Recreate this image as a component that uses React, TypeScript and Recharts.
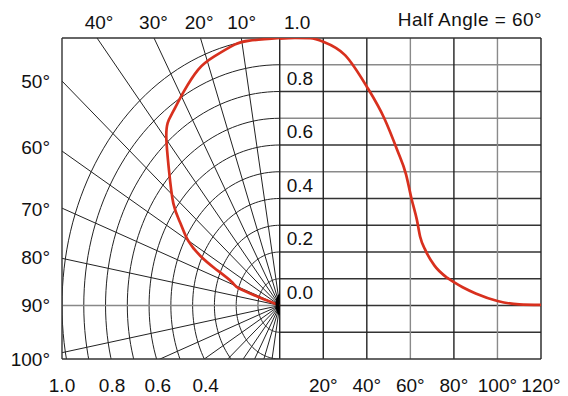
import { LineChart, Line, XAxis, YAxis, ReferenceLine, ReferenceDot } from "recharts"

// right-hand profile: off-axis angle (deg) vs relative intensity
const profileAngles = [0, 7, 14, 20, 30, 40, 48, 54, 58, 60.5, 63, 64.5, 67, 71, 77, 80, 84, 90, 100, 110, 120]
const profileIntensity = [0.998, 1.0, 0.999, 0.986, 0.936, 0.818, 0.7, 0.58, 0.49, 0.4, 0.32, 0.257, 0.205, 0.15, 0.103, 0.087, 0.068, 0.045, 0.017, 0.004, 0.002]

// left-hand polar plot: angle (deg) vs relative intensity
const polarAngles = [73, 72, 71, 68, 65, 63, 60, 56, 52, 45, 40, 37, 34, 29, 23, 18, 12, 8, 0]
const polarIntensity = [0, 0.1, 0.2, 0.24, 0.33, 0.41, 0.486, 0.55, 0.62, 0.72, 0.81, 0.855, 0.875, 0.912, 0.958, 0.978, 0.997, 1.0, 1.0]

// tick labels
const bottomTicks = [-100, -77, -56, -34, 20, 40, 60, 80, 100, 120]
const bottomLabels = ["1.0", "0.8", "0.6", "0.4", "20°", "40°", "60°", "80°", "100°", "120°"]
const topTicks = [-83, -58, -37, -17.5, 8]
const topLabels = ["40°", "30°", "20°", "10°", "1.0"]
const sideTicks = [0.84, 0.59, 0.36, 0.18, 0, -0.2]
const sideLabels = ["50°", "60°", "70°", "80°", "90°", "100°"]
const gridValues = [0.8, 0.6, 0.4, 0.2, 0]
const gridLabels = ["0.8", "0.6", "0.4", "0.2", "0.0"]
const title = "Half Angle = 60°"

// grid layout
const ringRadii = [0.1, 0.2, 0.3, 0.4, 0.5, 0.6, 0.7, 0.8, 0.9, 1.0]
const spokeAngles = [10, 20, 30, 40, 50, 60, 70, 80, 100, 110, 120, 130, 140, 150, 160, 170]
const levels = [0.9, 0.8, 0.7, 0.6, 0.5, 0.4, 0.3, 0.2, 0.1, 0, -0.1]
const columns = [0, 20, 40, 60, 80, 100]
const grayColumns = [60, 100]
const grayLevels = [0.9, 0.7, 0.5]

const rad = (d: number) => (d * Math.PI) / 180
// polar plot is drawn with 100 x-units per unit of radius horizontally
const toPolar = (a: number, r: number) => ({ x: -100 * r * Math.sin(rad(a)), y: r * Math.cos(rad(a)) })

const polarGrid: { x: number; y: number | null }[] = []
ringRadii.forEach((r) => {
    for (let a = 0; a <= 180; a += 2) polarGrid.push(toPolar(a, r))
    polarGrid.push({ x: 0, y: null })
})
spokeAngles.forEach((a) => {
    polarGrid.push({ x: 0, y: 0 })
    polarGrid.push(toPolar(a, 5))
    polarGrid.push({ x: 0, y: null })
})

const polarCurve = polarAngles.map((a, i) => toPolar(a, polarIntensity[i]))
const profileCurve = profileAngles.map((a, i) => ({ x: a, y: profileIntensity[i] }))

const RED = "#d8301e"
const INK = "#111"
const FONT = 19

const lookup = (ticks: number[], labels: string[]) => (v: number) => labels[ticks.indexOf(v)] ?? ""

export default function App() {
    return (
        <div style={{ position: "absolute", left: 0, top: 0, background: "#fff" }}>
            <LineChart
                width={568}
                height={396}
                margin={{ top: 0, right: 27, bottom: 0, left: 0 }}
                style={{ fontFamily: "'Liberation Sans', Arial, sans-serif" }}
            >
                <XAxis
                    dataKey="x"
                    type="number"
                    domain={[-100, 120]}
                    allowDataOverflow
                    ticks={bottomTicks}
                    interval={0}
                    height={37}
                    axisLine={false}
                    tickLine={false}
                    tickSize={0}
                    tickMargin={20}
                    tick={{ fontSize: FONT, fill: INK }}
                    tickFormatter={lookup(bottomTicks, bottomLabels)}
                />
                <XAxis
                    xAxisId="top"
                    orientation="top"
                    dataKey="x"
                    type="number"
                    domain={[-100, 120]}
                    allowDataOverflow
                    ticks={topTicks}
                    interval={0}
                    height={38}
                    axisLine={false}
                    tickLine={false}
                    tickSize={0}
                    tickMargin={9}
                    tick={{ fontSize: FONT, fill: INK }}
                    tickFormatter={lookup(topTicks, topLabels)}
                />
                <YAxis
                    type="number"
                    domain={[-0.2, 1]}
                    allowDataOverflow
                    ticks={sideTicks}
                    interval={0}
                    width={62}
                    axisLine={false}
                    tickLine={false}
                    tickSize={0}
                    tickMargin={12}
                    tick={{ fontSize: FONT, fill: INK }}
                    tickFormatter={lookup(sideTicks, sideLabels)}
                />

                <Line
                    data={polarGrid}
                    dataKey="y"
                    type="linear"
                    stroke="#222"
                    strokeWidth={1}
                    dot={false}
                    activeDot={false}
                    isAnimationActive={false}
                />

                <ReferenceLine segment={[{ x: -100, y: 0 }, { x: 0, y: 0 }]} stroke="#888" strokeWidth={1.3} />

                {levels.map((v) => {
                    const i = gridValues.indexOf(v)
                    return (
                        <ReferenceLine
                            key={"h" + v}
                            segment={[{ x: 0, y: v }, { x: 120, y: v }]}
                            stroke={grayLevels.includes(v) ? "#8a8a8a" : "#333"}
                            strokeWidth={1.3}
                            label={
                                i >= 0
                                    ? { value: gridLabels[i], position: "insideBottomLeft", offset: 7, fontSize: FONT, fill: INK }
                                    : undefined
                            }
                        />
                    )
                })}
                {columns.map((c) => (
                    <ReferenceLine
                        key={"v" + c}
                        segment={[{ x: c, y: -0.2 }, { x: c, y: 1 }]}
                        stroke={grayColumns.includes(c) ? "#8a8a8a" : "#222"}
                        strokeWidth={1.4}
                    />
                ))}

                {/* frame */}
                <ReferenceLine
                    segment={[{ x: -100, y: 1 }, { x: 120, y: 1 }]}
                    stroke="#333"
                    strokeWidth={1.4}
                    label={{
                        value: title,
                        position: "insideBottomRight",
                        offset: 12,
                        dx: 13,
                        fontSize: FONT,
                        fill: INK,
                        style: { letterSpacing: 0.45 },
                    }}
                />
                <ReferenceLine segment={[{ x: -100, y: -0.2 }, { x: 120, y: -0.2 }]} stroke="#333" strokeWidth={1.4} />
                <ReferenceLine segment={[{ x: -100, y: -0.2 }, { x: -100, y: 1 }]} stroke="#333" strokeWidth={1.4} />
                <ReferenceLine segment={[{ x: 120, y: -0.2 }, { x: 120, y: 1 }]} stroke="#222" strokeWidth={1.4} />

                <ReferenceDot
                    x={0}
                    y={0}
                    r={1}
                    shape={(p: any) => (
                        <path d={`M${p.cx},${p.cy - 12} A7,12 0 0 0 ${p.cx},${p.cy + 10} Z`} fill="#000" />
                    )}
                />

                <Line
                    data={polarCurve}
                    dataKey="y"
                    type="natural"
                    stroke={RED}
                    strokeWidth={2.7}
                    dot={false}
                    activeDot={false}
                    isAnimationActive={false}
                />
                <Line
                    data={profileCurve}
                    dataKey="y"
                    type="monotone"
                    stroke={RED}
                    strokeWidth={2.7}
                    dot={false}
                    activeDot={false}
                    isAnimationActive={false}
                />
            </LineChart>
        </div>
    )
}
